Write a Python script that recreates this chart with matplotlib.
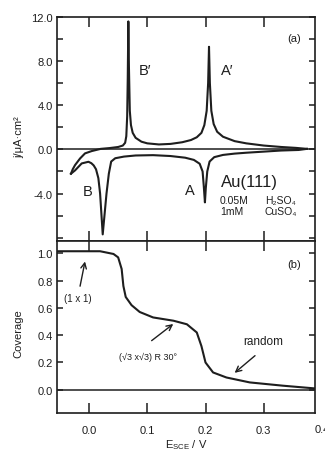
import matplotlib
matplotlib.use("Agg")
import matplotlib.pyplot as plt
from matplotlib.ticker import MultipleLocator, FixedLocator

plt.rcParams['font.family'] = ['Liberation Sans', 'DejaVu Sans']
plt.rcParams['mathtext.fontset'] = 'custom'
plt.rcParams['mathtext.rm'] = 'Liberation Sans'

# ---- data ----
# anodic (upper) branch of the voltammogram, E / V vs j / uA cm^-2
up_E = [-0.031, -0.028, -0.024, -0.0154, -0.0069, 0.0046, 0.02, 0.035, 0.05, 0.058,
        0.062, 0.064, 0.0655, 0.0665, 0.0675, 0.0685, 0.070, 0.072, 0.075, 0.08,
        0.09, 0.10, 0.12, 0.14, 0.16, 0.175, 0.185, 0.193, 0.198, 0.202,
        0.2045, 0.206, 0.2075, 0.21, 0.214, 0.22, 0.23, 0.25, 0.27, 0.30,
        0.33, 0.355, 0.374]
up_j = [-2.2, -1.8, -1.42, -0.82, -0.36, -0.15, 0.05, 0.12, 0.22, 0.35,
        0.6, 1.2, 3.0, 6.5, 11.6, 7.5, 3.5, 2.2, 1.5, 1.05,
        0.7, 0.55, 0.45, 0.5, 0.65, 0.85, 1.1, 1.5, 2.2, 3.5,
        6.0, 9.3, 6.0, 3.5, 2.3, 1.6, 1.15, 0.75, 0.55, 0.35,
        0.22, 0.14, 0.05]
# cathodic (lower) branch
dn_E = [0.374, 0.36, 0.33, 0.30, 0.27, 0.25, 0.23, 0.215, 0.207, 0.203,
        0.2005, 0.199, 0.197, 0.195, 0.19, 0.18, 0.165, 0.14, 0.11, 0.08,
        0.06, 0.045, 0.038, 0.034, 0.030, 0.0235, 0.019, 0.016, 0.012, 0.008,
        0.004, -0.001, -0.0126, -0.024, -0.031]
dn_j = [0.05, -0.05, -0.1, -0.2, -0.3, -0.38, -0.5, -0.7, -1.1, -2.0,
        -3.5, -4.8, -3.3, -2.0, -1.3, -0.95, -0.75, -0.6, -0.52, -0.55,
        -0.65, -0.8, -1.1, -2.2, -4.0, -7.7, -4.0, -2.6, -1.8, -1.45,
        -1.25, -1.12, -1.27, -1.9, -2.2]
# coverage curve
cov_E = [-0.055, 0.019, 0.042, 0.05, 0.056, 0.059, 0.063, 0.073, 0.087, 0.11,
         0.145, 0.168, 0.185, 0.193, 0.20, 0.213, 0.236, 0.276, 0.333, 0.388]
cov_t = [1.015, 1.015, 0.995, 0.97, 0.885, 0.76, 0.68, 0.62, 0.57, 0.53,
         0.506, 0.48, 0.42, 0.32, 0.20, 0.127, 0.09, 0.054, 0.03, 0.01]

x_ticks = [0.0, 0.1, 0.2, 0.3]
x_ticklabels = ["0.0", "0.1", "0.2", "0.3"]
ja_ticks = [-4.0, 0.0, 4.0, 8.0, 12.0]
ja_ticklabels = ["-4.0", "0.0", "4.0", "8.0", "12.0"]
cov_ticks = [0.0, 0.2, 0.4, 0.6, 0.8, 1.0]
cov_ticklabels = ["0.0", "0.2", "0.4", "0.6", "0.8", "1.0"]

C = '#1e1e1e'
fig = plt.figure(figsize=(3.25, 4.52), dpi=100)
ax1 = fig.add_axes([57/325, 1-242/452, (315-57)/325, (242-18)/452])
ax2 = fig.add_axes([57/325, 1-414/452, (315-57)/325, (414-242)/452])

xlim = (-0.055, 0.388)
for ax in (ax1, ax2):
    ax.set_xlim(*xlim)
    for s in ax.spines.values():
        s.set_linewidth(1.2)
        s.set_color(C)
    ax.xaxis.set_major_locator(FixedLocator(x_ticks))
    ax.tick_params(axis='x', which='major', direction='in', length=7, width=1.1,
                   top=True, bottom=True, colors=C, labelsize=8)
    ax.tick_params(axis='y', which='both', direction='in', length=4, width=1.1,
                   left=True, right=True, colors=C, labelsize=8, pad=3)

# top panel
ax1.plot(up_E, up_j, color=C, lw=1.5)
ax1.plot(dn_E, dn_j, color=C, lw=1.5)
ax1.axhline(0, color=C, lw=1.1)
ax1.set_ylim(-8.3, 12.0)
ax1.set_yticks(ja_ticks)
ax1.set_yticklabels(ja_ticklabels)
ax1.yaxis.set_minor_locator(MultipleLocator(2.0))
ax1.set_xticklabels([])
ax1.set_ylabel("j/μA·cm²", fontsize=8, color=C)
ax1.yaxis.set_label_coords(-0.125, 0.47)

ax1.text(0.353, 10.1, "(a)", fontsize=8, ha='center', va='center', color=C)
ax1.text(0.096, 7.2, "B′", fontsize=10.5, ha='center', va='center', color=C)
ax1.text(0.238, 7.2, "A′", fontsize=10.5, ha='center', va='center', color=C)
ax1.text(-0.002, -3.8, "B", fontsize=10.5, ha='center', va='center', color=C)
ax1.text(0.173, -3.7, "A", fontsize=10.5, ha='center', va='center', color=C)
ax1.text(0.226, -2.9, "Au(111)", fontsize=12, ha='left', va='center', color=C)
ax1.text(0.2247, -4.55, "0.05M", fontsize=7.5, ha='left', va='center', color=C)
ax1.text(0.302, -4.55, "H₂SO₄", fontsize=7.5, ha='left', va='center', color=C)
ax1.text(0.2247, -5.6, "1mM", fontsize=7.5, ha='left', va='center', color=C)
ax1.text(0.302, -5.6, "CuSO₄", fontsize=7.5, ha='left', va='center', color=C)

# bottom panel
ax2.plot(cov_E, cov_t, color=C, lw=1.5)
ax2.axhline(0, color=C, lw=1.1)
ax2.set_ylim(-0.17, 1.09)
ax2.set_yticks(cov_ticks)
ax2.set_yticklabels(cov_ticklabels)
ax2.set_xticklabels(x_ticklabels)
ax2.tick_params(axis='x', pad=9)
ax2.text(0.4, -0.17 - 11/137, "0.4", fontsize=8, ha='center', va='top', color=C,
         transform=ax2.transData, clip_on=False)
ax2.set_ylabel("Coverage", fontsize=8, color=C)
ax2.yaxis.set_label_coords(-0.13, 0.47)
ax2.set_xlabel("E$_{\\mathrm{SCE}}$ / V", fontsize=8, color=C, labelpad=1)

ax2.text(0.353, 0.92, "(b)", fontsize=8, ha='center', va='center', color=C)
ax2.text(-0.019, 0.67, "(1 x 1)", fontsize=7, ha='center', va='center', color=C)
ax2.text(0.101, 0.248, "(√3 x√3) R 30°", fontsize=6.5, ha='center', va='center', color=C)
ax2.text(0.299, 0.36, "random", fontsize=8.5, ha='center', va='center', color=C)
arr = dict(arrowstyle='->', color=C, lw=1.0, shrinkA=0, shrinkB=0)
ax2.annotate("", xy=(-0.0069, 0.94), xytext=(-0.0154, 0.759), arrowprops=arr)
ax2.annotate("", xy=(0.1446, 0.482), xytext=(0.1075, 0.36), arrowprops=arr)
ax2.annotate("", xy=(0.250, 0.124), xytext=(0.285, 0.25), arrowprops=arr)

fig.savefig("out.png", dpi=100)
